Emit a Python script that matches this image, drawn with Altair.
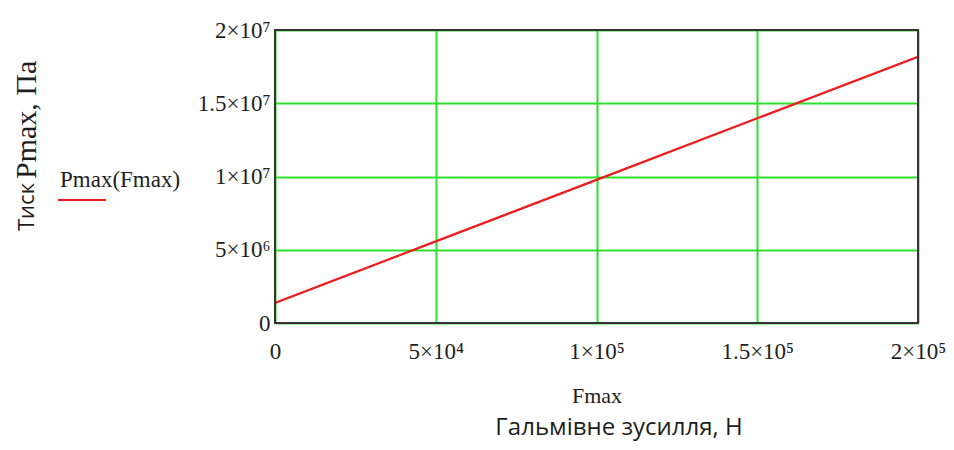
import altair as alt
import pandas as pd

# data
F = [0, 50000, 100000, 150000, 200000]
P = [1.37e6, 5.57e6, 9.77e6, 1.397e7, 1.817e7]

x_ticks = [0, 50000, 100000, 150000, 200000]
x_labels = ["0", "5×10⁴", "1×10⁵", "1.5×10⁵", "2×10⁵"]
y_ticks = [0, 5000000, 10000000, 15000000, 20000000]
y_labels = ["0", "5×10⁶", "1×10⁷", "1.5×10⁷", "2×10⁷"]

legend_label = "Pmax(Fmax)"
x_title = "Fmax"
x_title2 = "Гальмівне зусилля, Н"
y_title_a = "Тиск"
y_title_b = "Pmax, Па"

SERIF = "Liberation Serif"
SANS = "Open Sans"
GREEN = "#2ee02e"
RED = "#ee1c1c"
INK = "#1e1e1e"


def label_expr(ticks, labels):
    parts = [f"datum.value == {t} ? '{l}'" for t, l in zip(ticks, labels)]
    return " : ".join(parts) + " : ''"


df = pd.DataFrame({"F": F, "P": P})

W, H = 643, 293

base = alt.Chart(df)

line = base.mark_line(color=RED, strokeWidth=2.2, clip=True).encode(
    x=alt.X(
        "F:Q",
        scale=alt.Scale(domain=[0, 200000], nice=False, zero=False),
        axis=alt.Axis(
            values=x_ticks,
            labelExpr=label_expr(x_ticks, x_labels),
            labelFont=SERIF,
            labelFontSize=23,
            labelColor=INK,
            labelPadding=17,
            labelFlush=False,
            ticks=False,
            domain=False,
            grid=True,
            gridColor=GREEN,
            gridWidth=2,
            gridOpacity=1,
            title=x_title,
            titleFont=SERIF,
            titleFontSize=22,
            titleFontWeight="normal",
            titleColor=INK,
            titlePadding=22,
        ),
    ),
    y=alt.Y(
        "P:Q",
        scale=alt.Scale(domain=[0, 20000000], nice=False, zero=True),
        axis=alt.Axis(
            values=y_ticks,
            labelExpr=label_expr(y_ticks, y_labels),
            labelFont=SERIF,
            labelFontSize=23,
            labelColor=INK,
            labelPadding=5,
            labelFlush=False,
            ticks=False,
            domain=False,
            grid=True,
            gridColor=GREEN,
            gridWidth=2,
            gridOpacity=1,
            title=None,
        ),
    ),
)

txt_df = pd.DataFrame({"t": [0]})
tbase = alt.Chart(txt_df)

frame = tbase.mark_rect(fillOpacity=0, stroke="#333333", strokeWidth=2).encode(
    x=alt.value(0), x2=alt.value(W), y=alt.value(0), y2=alt.value(H)
)

legend_text = tbase.mark_text(
    text=legend_label, font=SERIF, fontSize=23, align="left", baseline="middle", color=INK
).encode(x=alt.value(-215), y=alt.value(150))

legend_line = tbase.mark_rule(color=RED, strokeWidth=2).encode(
    x=alt.value(-217), x2=alt.value(-169), y=alt.value(170)
)

x_title2_mark = tbase.mark_text(
    text=x_title2, font=SANS, fontSize=24, align="center", baseline="alphabetic", color=INK
).encode(x=alt.value(344), y=alt.value(405))

y_title_a_mark = tbase.mark_text(
    text=y_title_a, font=SANS, fontSize=22, align="left", baseline="middle", angle=270, color=INK
).encode(x=alt.value(-248), y=alt.value(201))

y_title_b_mark = tbase.mark_text(
    text=y_title_b, font=SERIF, fontSize=30, align="left", baseline="middle", angle=270, color=INK
).encode(x=alt.value(-248), y=alt.value(149))

chart = (
    alt.layer(line, frame, legend_text, legend_line, x_title2_mark, y_title_a_mark, y_title_b_mark)
    .properties(
        width=W,
        height=H,
        autosize=alt.AutoSizeParams(type="none"),
        padding={"left": 267, "top": 22, "right": 28, "bottom": 119},
    )
    .configure_view(stroke=None)
    .configure(background="white")
)

chart.save("out.html", embed_options={"renderer": "svg", "actions": False})
